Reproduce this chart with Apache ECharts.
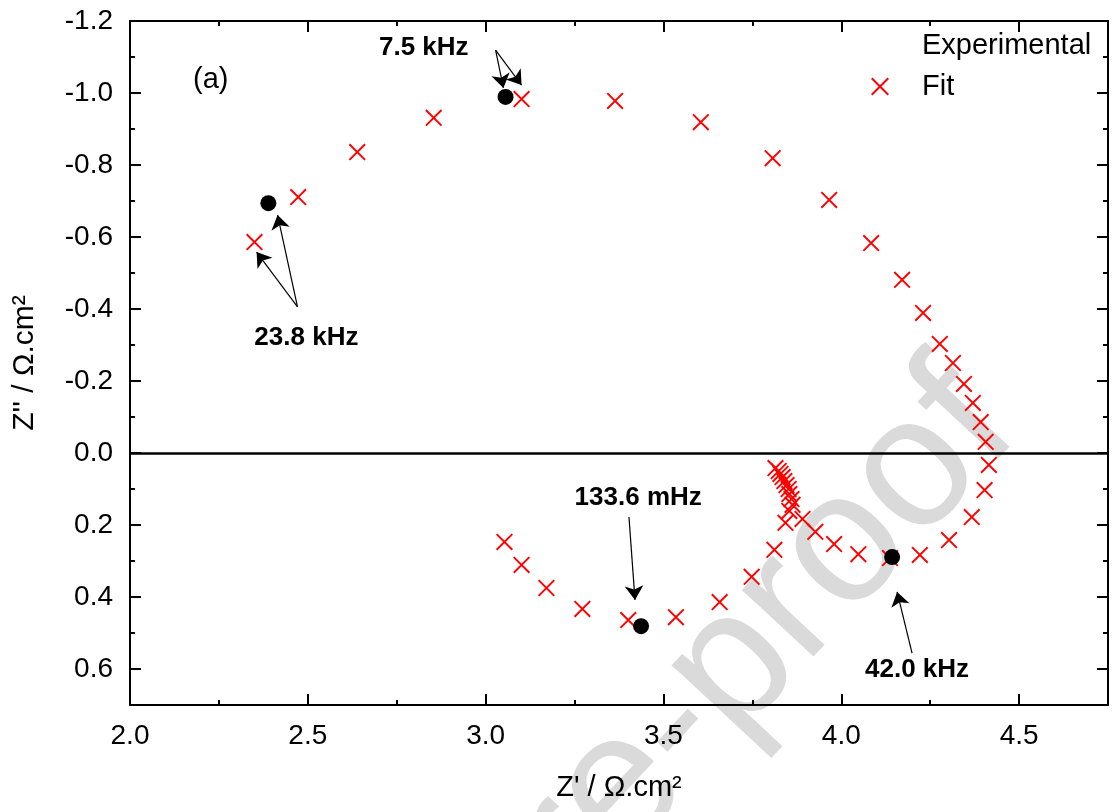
<!DOCTYPE html>
<html><head><meta charset="utf-8">
<script src="https://cdn.jsdelivr.net/npm/echarts@6/dist/echarts.min.js"></script>
<style>html,body{margin:0;padding:0;background:#fff}#c{width:1117px;height:812px}</style>
</head><body><div id="c"></div>
<script>
// Experimental points (Z', Z'')
const expZr = [2.389, 3.056, 3.437, 4.143];
const expZi = [-0.694, -0.989, 0.481, 0.289];
// Fit points
const fitZr = [2.350, 2.473, 2.639, 2.854, 3.101, 3.364, 3.605, 3.807, 3.966, 4.084,
  4.171, 4.230, 4.277, 4.314, 4.345, 4.370, 4.392, 4.406, 4.415, 4.403,
  4.367, 4.303, 4.221, 4.137, 4.048, 3.980, 3.927, 3.891, 3.863, 3.860,
  3.854, 3.852, 3.846, 3.840, 3.835, 3.829, 3.824, 3.815, 3.854, 3.843,
  3.812, 3.748, 3.658, 3.535, 3.401, 3.272, 3.171, 3.101, 3.053];
const fitZi = [-0.586, -0.711, -0.836, -0.931, -0.983, -0.978, -0.919, -0.819, -0.703, -0.583,
  -0.481, -0.389, -0.303, -0.250, -0.192, -0.139, -0.086, -0.031, 0.033, 0.103,
  0.178, 0.242, 0.283, 0.292, 0.281, 0.253, 0.219, 0.183, 0.144, 0.128,
  0.114, 0.100, 0.089, 0.078, 0.067, 0.058, 0.050, 0.042, 0.161, 0.194,
  0.269, 0.344, 0.414, 0.456, 0.464, 0.433, 0.375, 0.311, 0.247];
// Annotations
const annoText = ['7.5 kHz', '23.8 kHz', '133.6 mHz', '42.0 kHz'];
const annoZr = [2.826, 2.496, 3.429, 4.213];
const annoZi = [-1.125, -0.319, 0.125, 0.603];
const arrowFrom = [[3.028, -1.119], [3.028, -1.119], [2.471, -0.406], [2.471, -0.406], [3.403, 0.178], [4.199, 0.556]];
const arrowTo = [[3.050, -1.014], [3.101, -1.022], [2.356, -0.558], [2.415, -0.661], [3.420, 0.408], [4.157, 0.386]];
const panelLabel = '(a)';
const panelPos = [2.227, -1.036];

const FONT = 'Liberation Sans, Arial, sans-serif';
const crossPath = 'path://M0,0.8 L0.8,0 L10,9.2 L9.2,10 Z M9.2,0 L10,0.8 L0.8,10 L0,9.2 Z';

const chart = echarts.init(document.getElementById('c'), null, {renderer: 'canvas'});
const axisCommon = {
  axisLine: {show: true, onZero: false, lineStyle: {color: '#000', width: 2}},
  splitLine: {show: false},
};
const option = {
  animation: false,
  backgroundColor: '#fff',
  grid: {left: 130, right: 9, top: 21, bottom: 107, containLabel: false},
  graphic: [{
    type: 'text', z: -10, silent: true,
    x: 985, y: 398, rotation: 0.82,
    style: {text: 'Journal Pre-proof', align: 'right', verticalAlign: 'middle',
      font: '185px ' + FONT, fill: '#dadada'}
  }],
  legend: {
    orient: 'vertical', left: 838, top: 26, itemGap: 12,
    itemWidth: 74, itemHeight: 18,
    textStyle: {fontFamily: FONT, fontSize: 29, color: '#000'},
    data: [{name: 'Experimental', icon: 'none'}, {name: 'Fit'}]
  },
  xAxis: [{
    ...axisCommon, type: 'value', position: 'bottom', min: 2.0, max: 4.75, interval: 0.5,
    name: "Z' / \u03A9.cm\u00B2", nameLocation: 'middle', nameGap: 68,
    nameTextStyle: {fontFamily: FONT, fontSize: 29, color: '#000'},
    axisTick: {show: true, inside: true, length: 11, lineStyle: {width: 2, color: '#000'}},
    minorTick: {show: true, splitNumber: 2, length: 5, lineStyle: {width: 2, color: '#000'}},
    axisLabel: {fontFamily: FONT, fontSize: 28, color: '#000', margin: 17, showMaxLabel: false,
      formatter: v => v.toFixed(1)}
  }, {
    ...axisCommon, type: 'value', position: 'top', min: 2.0, max: 4.75, interval: 0.5,
    axisTick: {show: true, inside: true, length: 11, lineStyle: {width: 2, color: '#000'}},
    minorTick: {show: true, splitNumber: 2, length: 5, lineStyle: {width: 2, color: '#000'}},
    axisLabel: {show: false}
  }],
  yAxis: [{
    ...axisCommon, type: 'value', position: 'left', inverse: true, min: -1.2, max: 0.7, interval: 0.2,
    name: "Z'' / \u03A9.cm\u00B2", nameLocation: 'middle', nameGap: 90, nameRotate: 90,
    nameTextStyle: {fontFamily: FONT, fontSize: 30, color: '#000'},
    axisTick: {show: true, inside: true, length: 11, lineStyle: {width: 2, color: '#000'}},
    minorTick: {show: true, splitNumber: 2, length: 5, lineStyle: {width: 2, color: '#000'}},
    axisLabel: {fontFamily: FONT, fontSize: 28, color: '#000', margin: 17, showMaxLabel: false,
      formatter: v => v.toFixed(1)}
  }, {
    ...axisCommon, type: 'value', position: 'right', inverse: true, min: -1.2, max: 0.7, interval: 0.2,
    axisTick: {show: true, inside: true, length: 11, lineStyle: {width: 2, color: '#000'}},
    minorTick: {show: true, splitNumber: 2, length: 5, lineStyle: {width: 2, color: '#000'}},
    axisLabel: {show: false}
  }],
  series: [
    {
      name: 'Fit', type: 'scatter', z: 3,
      symbol: crossPath, symbolSize: 17,
      itemStyle: {color: '#ff0000', opacity: 1},
      data: fitZr.map((x, i) => [x, fitZi[i]]),
      markLine: {
        silent: true, symbol: 'none', animation: false,
        label: {show: false},
        lineStyle: {color: '#000', width: 2.5, type: 'solid', opacity: 1},
        data: [{yAxis: 0}]
      }
    },
    {
      name: 'Experimental', type: 'scatter', z: 4,
      symbol: 'circle', symbolSize: 16,
      itemStyle: {color: '#000', opacity: 1},
      data: expZr.map((x, i) => [x, expZi[i]])
    },
    {
      name: 'annotations', type: 'scatter', z: 5, silent: true,
      symbolSize: 0,
      itemStyle: {color: '#000', opacity: 1},
      data: annoZr.map((x, i) => ({value: [x, annoZi[i]], name: annoText[i]}))
        .concat([{value: panelPos, name: panelLabel,
          label: {fontWeight: 'normal', fontSize: 29}}]),
      label: {show: true, position: 'inside', formatter: p => p.name, opacity: 1,
        fontFamily: FONT, fontSize: 26, fontWeight: 'bold', color: '#000'},
      markLine: {
        silent: true, animation: false,
        symbol: ['none', 'arrow'], symbolSize: 14,
        label: {show: false},
        itemStyle: {color: '#000', opacity: 1},
        lineStyle: {color: '#000', width: 1.2, type: 'solid', opacity: 1},
        data: arrowFrom.map((f, i) => [{coord: f}, {coord: arrowTo[i]}])
      }
    }
  ]
};
chart.setOption(option);
</script></body></html>
